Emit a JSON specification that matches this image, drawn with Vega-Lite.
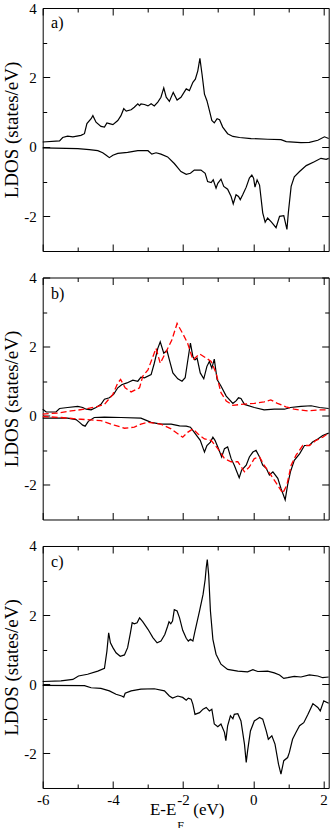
{
  "$schema": "https://vega.github.io/schema/vega-lite/v6.json",
  "padding": {"left": 1.7, "top": 0, "right": 4, "bottom": 0},
  "spacing": 17.5,
  "config": {
    "view": {"stroke": "#000", "strokeWidth": 1},
    "axis": {"domain": false, "grid": false, "tickColor": "#000", "tickWidth": 1, "labelFont": "Liberation Serif", "titleFont": "Liberation Serif", "labelColor": "#000", "titleColor": "#000", "labelFontSize": 15, "titleFontSize": 19, "titleFontWeight": "normal", "labelFlush": false}
  },
  "datasets": {
    "a": [
      {"e":-6,"d":0.14,"s":"u"},{"e":-5.52,"d":0.17,"s":"u"},{"e":-5.43,"d":0.27,"s":"u"},{"e":-5.29,"d":0.31,"s":"u"},{"e":-5.14,"d":0.29,"s":"u"},{"e":-4.91,"d":0.33,"s":"u"},{"e":-4.81,"d":0.38,"s":"u"},{"e":-4.74,"d":0.67,"s":"u"},{"e":-4.62,"d":0.81,"s":"u"},{"e":-4.57,"d":0.9,"s":"u"},{"e":-4.48,"d":0.71,"s":"u"},{"e":-4.34,"d":0.59,"s":"u"},{"e":-4.24,"d":0.57,"s":"u"},{"e":-4.17,"d":0.69,"s":"u"},{"e":-4.1,"d":0.67,"s":"u"},{"e":-4.0,"d":0.64,"s":"u"},{"e":-3.86,"d":0.76,"s":"u"},{"e":-3.77,"d":0.9,"s":"u"},{"e":-3.69,"d":1.1,"s":"u"},{"e":-3.62,"d":1.03,"s":"u"},{"e":-3.48,"d":1.07,"s":"u"},{"e":-3.39,"d":1.14,"s":"u"},{"e":-3.29,"d":1.24,"s":"u"},{"e":-3.24,"d":1.19,"s":"u"},{"e":-3.2,"d":1.24,"s":"u"},{"e":-3.1,"d":1.22,"s":"u"},{"e":-3.0,"d":1.18,"s":"u"},{"e":-2.91,"d":1.24,"s":"u"},{"e":-2.82,"d":1.18,"s":"u"},{"e":-2.72,"d":1.29,"s":"u"},{"e":-2.63,"d":1.43,"s":"u"},{"e":-2.55,"d":1.7,"s":"u"},{"e":-2.48,"d":1.43,"s":"u"},{"e":-2.39,"d":1.31,"s":"u"},{"e":-2.28,"d":1.57,"s":"u"},{"e":-2.17,"d":1.35,"s":"u"},{"e":-2.06,"d":1.43,"s":"u"},{"e":-1.91,"d":1.67,"s":"u"},{"e":-1.82,"d":1.62,"s":"u"},{"e":-1.72,"d":1.86,"s":"u"},{"e":-1.65,"d":1.95,"s":"u"},{"e":-1.58,"d":2.19,"s":"u"},{"e":-1.52,"d":2.55,"s":"u"},{"e":-1.46,"d":2.1,"s":"u"},{"e":-1.39,"d":1.52,"s":"u"},{"e":-1.32,"d":1.33,"s":"u"},{"e":-1.25,"d":1.05,"s":"u"},{"e":-1.18,"d":0.76,"s":"u"},{"e":-1.11,"d":0.69,"s":"u"},{"e":-1.03,"d":0.81,"s":"u"},{"e":-0.96,"d":0.78,"s":"u"},{"e":-0.87,"d":0.57,"s":"u"},{"e":-0.73,"d":0.38,"s":"u"},{"e":-0.58,"d":0.3,"s":"u"},{"e":-0.39,"d":0.27,"s":"u"},{"e":-0.06,"d":0.24,"s":"u"},{"e":0.41,"d":0.22,"s":"u"},{"e":0.79,"d":0.21,"s":"u"},{"e":0.94,"d":0.15,"s":"u"},{"e":1.36,"d":0.12,"s":"u"},{"e":1.6,"d":0.13,"s":"u"},{"e":1.84,"d":0.19,"s":"u"},{"e":2.03,"d":0.29,"s":"u"},{"e":2.15,"d":0.24,"s":"u"},
      {"e":-6,"d":-0.03,"s":"d"},{"e":-5.0,"d":-0.05,"s":"d"},{"e":-4.67,"d":-0.08,"s":"d"},{"e":-4.43,"d":-0.11,"s":"d"},{"e":-4.29,"d":-0.17,"s":"d"},{"e":-4.19,"d":-0.24,"s":"d"},{"e":-4.1,"d":-0.31,"s":"d"},{"e":-4.0,"d":-0.24,"s":"d"},{"e":-3.86,"d":-0.19,"s":"d"},{"e":-3.58,"d":-0.16,"s":"d"},{"e":-3.29,"d":-0.11,"s":"d"},{"e":-3.0,"d":-0.11,"s":"d"},{"e":-2.89,"d":-0.21,"s":"d"},{"e":-2.77,"d":-0.17,"s":"d"},{"e":-2.63,"d":-0.21,"s":"d"},{"e":-2.44,"d":-0.29,"s":"d"},{"e":-2.25,"d":-0.48,"s":"d"},{"e":-2.06,"d":-0.71,"s":"d"},{"e":-1.91,"d":-0.79,"s":"d"},{"e":-1.79,"d":-0.76,"s":"d"},{"e":-1.68,"d":-0.67,"s":"d"},{"e":-1.49,"d":-0.67,"s":"d"},{"e":-1.37,"d":-0.76,"s":"d"},{"e":-1.3,"d":-1.0,"s":"d"},{"e":-1.2,"d":-1.03,"s":"d"},{"e":-1.14,"d":-0.95,"s":"d"},{"e":-1.06,"d":-1.19,"s":"d"},{"e":-1.01,"d":-1.05,"s":"d"},{"e":-0.92,"d":-0.93,"s":"d"},{"e":-0.84,"d":-1.14,"s":"d"},{"e":-0.73,"d":-1.22,"s":"d"},{"e":-0.63,"d":-1.43,"s":"d"},{"e":-0.57,"d":-1.64,"s":"d"},{"e":-0.49,"d":-1.38,"s":"d"},{"e":-0.42,"d":-1.43,"s":"d"},{"e":-0.37,"d":-1.52,"s":"d"},{"e":-0.3,"d":-1.38,"s":"d"},{"e":-0.2,"d":-1.16,"s":"d"},{"e":-0.11,"d":-0.9,"s":"d"},{"e":-0.04,"d":-0.81,"s":"d"},{"e":0.01,"d":-0.9,"s":"d"},{"e":0.05,"d":-1.16,"s":"d"},{"e":0.11,"d":-0.95,"s":"d"},{"e":0.18,"d":-1.1,"s":"d"},{"e":0.27,"d":-1.9,"s":"d"},{"e":0.34,"d":-2.17,"s":"d"},{"e":0.41,"d":-2.05,"s":"d"},{"e":0.52,"d":-2.17,"s":"d"},{"e":0.65,"d":-2.33,"s":"d"},{"e":0.75,"d":-2.0,"s":"d"},{"e":0.87,"d":-1.98,"s":"d"},{"e":0.96,"d":-2.38,"s":"d"},{"e":1.0,"d":-1.9,"s":"d"},{"e":1.08,"d":-1.14,"s":"d"},{"e":1.17,"d":-0.86,"s":"d"},{"e":1.32,"d":-0.71,"s":"d"},{"e":1.51,"d":-0.54,"s":"d"},{"e":1.74,"d":-0.43,"s":"d"},{"e":1.93,"d":-0.33,"s":"d"},{"e":2.08,"d":-0.36,"s":"d"},{"e":2.15,"d":-0.33,"s":"d"}
    ],
    "b": [
      {"e":-6,"d":0.19,"s":"u","k":"b"},{"e":-5.9,"d":0.11,"s":"u","k":"b"},{"e":-5.62,"d":0.11,"s":"u","k":"b"},{"e":-5.52,"d":0.21,"s":"u","k":"b"},{"e":-5.29,"d":0.24,"s":"u","k":"b"},{"e":-5.0,"d":0.27,"s":"u","k":"b"},{"e":-4.86,"d":0.24,"s":"u","k":"b"},{"e":-4.76,"d":0.19,"s":"u","k":"b"},{"e":-4.62,"d":0.17,"s":"u","k":"b"},{"e":-4.48,"d":0.24,"s":"u","k":"b"},{"e":-4.34,"d":0.33,"s":"u","k":"b"},{"e":-4.24,"d":0.48,"s":"u","k":"b"},{"e":-4.1,"d":0.52,"s":"u","k":"b"},{"e":-3.98,"d":0.62,"s":"u","k":"b"},{"e":-3.86,"d":0.81,"s":"u","k":"b"},{"e":-3.75,"d":0.9,"s":"u","k":"b"},{"e":-3.6,"d":0.95,"s":"u","k":"b"},{"e":-3.43,"d":1.03,"s":"u","k":"b"},{"e":-3.29,"d":1.0,"s":"u","k":"b"},{"e":-3.2,"d":1.12,"s":"u","k":"b"},{"e":-3.1,"d":1.1,"s":"u","k":"b"},{"e":-2.91,"d":1.19,"s":"u","k":"b"},{"e":-2.82,"d":1.52,"s":"u","k":"b"},{"e":-2.72,"d":1.95,"s":"u","k":"b"},{"e":-2.65,"d":2.14,"s":"u","k":"b"},{"e":-2.55,"d":1.81,"s":"u","k":"b"},{"e":-2.46,"d":1.89,"s":"u","k":"b"},{"e":-2.39,"d":1.62,"s":"u","k":"b"},{"e":-2.29,"d":1.24,"s":"u","k":"b"},{"e":-2.15,"d":1.07,"s":"u","k":"b"},{"e":-2.03,"d":1.0,"s":"u","k":"b"},{"e":-1.94,"d":1.1,"s":"u","k":"b"},{"e":-1.87,"d":1.57,"s":"u","k":"b"},{"e":-1.79,"d":2.1,"s":"u","k":"b"},{"e":-1.72,"d":1.71,"s":"u","k":"b"},{"e":-1.66,"d":1.62,"s":"u","k":"b"},{"e":-1.6,"d":1.67,"s":"u","k":"b"},{"e":-1.51,"d":1.24,"s":"u","k":"b"},{"e":-1.41,"d":1.07,"s":"u","k":"b"},{"e":-1.32,"d":1.43,"s":"u","k":"b"},{"e":-1.25,"d":1.57,"s":"u","k":"b"},{"e":-1.18,"d":1.38,"s":"u","k":"b"},{"e":-1.11,"d":1.64,"s":"u","k":"b"},{"e":-1.03,"d":1.05,"s":"u","k":"b"},{"e":-0.92,"d":0.86,"s":"u","k":"b"},{"e":-0.77,"d":0.57,"s":"u","k":"b"},{"e":-0.58,"d":0.36,"s":"u","k":"b"},{"e":-0.49,"d":0.43,"s":"u","k":"b"},{"e":-0.42,"d":0.52,"s":"u","k":"b"},{"e":-0.35,"d":0.5,"s":"u","k":"b"},{"e":-0.25,"d":0.33,"s":"u","k":"b"},{"e":0.03,"d":0.24,"s":"u","k":"b"},{"e":0.31,"d":0.17,"s":"u","k":"b"},{"e":0.6,"d":0.19,"s":"u","k":"b"},{"e":0.89,"d":0.19,"s":"u","k":"b"},{"e":1.06,"d":0.24,"s":"u","k":"b"},{"e":1.36,"d":0.27,"s":"u","k":"b"},{"e":1.65,"d":0.29,"s":"u","k":"b"},{"e":1.89,"d":0.24,"s":"u","k":"b"},{"e":2.15,"d":0.21,"s":"u","k":"b"},
      {"e":-6,"d":-0.07,"s":"d","k":"b"},{"e":-5.29,"d":-0.07,"s":"d","k":"b"},{"e":-5.05,"d":-0.11,"s":"d","k":"b"},{"e":-4.95,"d":-0.19,"s":"d","k":"b"},{"e":-4.86,"d":-0.27,"s":"d","k":"b"},{"e":-4.79,"d":-0.3,"s":"d","k":"b"},{"e":-4.7,"d":-0.16,"s":"d","k":"b"},{"e":-4.53,"d":-0.05,"s":"d","k":"b"},{"e":-4.24,"d":-0.04,"s":"d","k":"b"},{"e":-3.77,"d":-0.05,"s":"d","k":"b"},{"e":-3.2,"d":-0.07,"s":"d","k":"b"},{"e":-2.91,"d":-0.19,"s":"d","k":"b"},{"e":-2.63,"d":-0.24,"s":"d","k":"b"},{"e":-2.34,"d":-0.24,"s":"d","k":"b"},{"e":-2.1,"d":-0.29,"s":"d","k":"b"},{"e":-1.91,"d":-0.3,"s":"d","k":"b"},{"e":-1.79,"d":-0.33,"s":"d","k":"b"},{"e":-1.68,"d":-0.48,"s":"d","k":"b"},{"e":-1.51,"d":-0.71,"s":"d","k":"b"},{"e":-1.39,"d":-1.05,"s":"d","k":"b"},{"e":-1.32,"d":-0.86,"s":"d","k":"b"},{"e":-1.22,"d":-0.76,"s":"d","k":"b"},{"e":-1.15,"d":-0.62,"s":"d","k":"b"},{"e":-1.09,"d":-0.71,"s":"d","k":"b"},{"e":-1.01,"d":-0.9,"s":"d","k":"b"},{"e":-0.9,"d":-1.19,"s":"d","k":"b"},{"e":-0.82,"d":-0.95,"s":"d","k":"b"},{"e":-0.73,"d":-0.9,"s":"d","k":"b"},{"e":-0.63,"d":-1.24,"s":"d","k":"b"},{"e":-0.54,"d":-1.43,"s":"d","k":"b"},{"e":-0.4,"d":-1.79,"s":"d","k":"b"},{"e":-0.33,"d":-1.57,"s":"d","k":"b"},{"e":-0.2,"d":-1.43,"s":"d","k":"b"},{"e":-0.11,"d":-1.19,"s":"d","k":"b"},{"e":-0.01,"d":-1.05,"s":"d","k":"b"},{"e":0.08,"d":-1.0,"s":"d","k":"b"},{"e":0.18,"d":-1.19,"s":"d","k":"b"},{"e":0.27,"d":-1.43,"s":"d","k":"b"},{"e":0.37,"d":-1.52,"s":"d","k":"b"},{"e":0.46,"d":-1.71,"s":"d","k":"b"},{"e":0.56,"d":-1.62,"s":"d","k":"b"},{"e":0.7,"d":-1.81,"s":"d","k":"b"},{"e":0.79,"d":-2.1,"s":"d","k":"b"},{"e":0.91,"d":-2.43,"s":"d","k":"b"},{"e":0.98,"d":-2.0,"s":"d","k":"b"},{"e":1.06,"d":-1.62,"s":"d","k":"b"},{"e":1.17,"d":-1.29,"s":"d","k":"b"},{"e":1.32,"d":-1.1,"s":"d","k":"b"},{"e":1.46,"d":-0.86,"s":"d","k":"b"},{"e":1.6,"d":-0.86,"s":"d","k":"b"},{"e":1.69,"d":-0.76,"s":"d","k":"b"},{"e":1.84,"d":-0.67,"s":"d","k":"b"},{"e":1.98,"d":-0.57,"s":"d","k":"b"},{"e":2.15,"d":-0.5,"s":"d","k":"b"},
      {"e":-6,"d":0.05,"s":"ru","k":"r"},{"e":-5.57,"d":0.08,"s":"ru","k":"r"},{"e":-5.19,"d":0.14,"s":"ru","k":"r"},{"e":-4.81,"d":0.19,"s":"ru","k":"r"},{"e":-4.43,"d":0.27,"s":"ru","k":"r"},{"e":-4.24,"d":0.33,"s":"ru","k":"r"},{"e":-4.0,"d":0.62,"s":"ru","k":"r"},{"e":-3.86,"d":0.95,"s":"ru","k":"r"},{"e":-3.78,"d":1.05,"s":"ru","k":"r"},{"e":-3.65,"d":0.81,"s":"ru","k":"r"},{"e":-3.48,"d":0.69,"s":"ru","k":"r"},{"e":-3.24,"d":0.81,"s":"ru","k":"r"},{"e":-3.15,"d":1.14,"s":"ru","k":"r"},{"e":-3.0,"d":1.33,"s":"ru","k":"r"},{"e":-2.86,"d":1.71,"s":"ru","k":"r"},{"e":-2.77,"d":1.95,"s":"ru","k":"r"},{"e":-2.65,"d":1.52,"s":"ru","k":"r"},{"e":-2.48,"d":1.86,"s":"ru","k":"r"},{"e":-2.32,"d":2.19,"s":"ru","k":"r"},{"e":-2.17,"d":2.67,"s":"ru","k":"r"},{"e":-2.01,"d":2.38,"s":"ru","k":"r"},{"e":-1.87,"d":2.1,"s":"ru","k":"r"},{"e":-1.72,"d":1.62,"s":"ru","k":"r"},{"e":-1.53,"d":1.79,"s":"ru","k":"r"},{"e":-1.34,"d":1.67,"s":"ru","k":"r"},{"e":-1.2,"d":1.57,"s":"ru","k":"r"},{"e":-1.06,"d":1.24,"s":"ru","k":"r"},{"e":-0.92,"d":0.67,"s":"ru","k":"r"},{"e":-0.77,"d":0.43,"s":"ru","k":"r"},{"e":-0.58,"d":0.3,"s":"ru","k":"r"},{"e":-0.35,"d":0.33,"s":"ru","k":"r"},{"e":0.03,"d":0.36,"s":"ru","k":"r"},{"e":0.31,"d":0.4,"s":"ru","k":"r"},{"e":0.5,"d":0.46,"s":"ru","k":"r"},{"e":0.69,"d":0.36,"s":"ru","k":"r"},{"e":0.93,"d":0.26,"s":"ru","k":"r"},{"e":1.17,"d":0.19,"s":"ru","k":"r"},{"e":1.55,"d":0.14,"s":"ru","k":"r"},{"e":1.84,"d":0.17,"s":"ru","k":"r"},{"e":2.15,"d":0.17,"s":"ru","k":"r"},
      {"e":-6,"d":-0.02,"s":"rd","k":"r"},{"e":-5.48,"d":-0.05,"s":"rd","k":"r"},{"e":-4.91,"d":-0.1,"s":"rd","k":"r"},{"e":-4.34,"d":-0.14,"s":"rd","k":"r"},{"e":-3.96,"d":-0.27,"s":"rd","k":"r"},{"e":-3.67,"d":-0.36,"s":"rd","k":"r"},{"e":-3.39,"d":-0.33,"s":"rd","k":"r"},{"e":-3.2,"d":-0.24,"s":"rd","k":"r"},{"e":-3.0,"d":-0.19,"s":"rd","k":"r"},{"e":-2.63,"d":-0.24,"s":"rd","k":"r"},{"e":-2.34,"d":-0.38,"s":"rd","k":"r"},{"e":-2.15,"d":-0.52,"s":"rd","k":"r"},{"e":-2.01,"d":-0.62,"s":"rd","k":"r"},{"e":-1.87,"d":-0.48,"s":"rd","k":"r"},{"e":-1.72,"d":-0.38,"s":"rd","k":"r"},{"e":-1.58,"d":-0.52,"s":"rd","k":"r"},{"e":-1.39,"d":-0.67,"s":"rd","k":"r"},{"e":-1.2,"d":-0.71,"s":"rd","k":"r"},{"e":-1.01,"d":-0.95,"s":"rd","k":"r"},{"e":-0.82,"d":-1.24,"s":"rd","k":"r"},{"e":-0.63,"d":-1.33,"s":"rd","k":"r"},{"e":-0.44,"d":-1.33,"s":"rd","k":"r"},{"e":-0.25,"d":-1.62,"s":"rd","k":"r"},{"e":-0.11,"d":-1.48,"s":"rd","k":"r"},{"e":0.03,"d":-1.24,"s":"rd","k":"r"},{"e":0.18,"d":-1.19,"s":"rd","k":"r"},{"e":0.31,"d":-1.43,"s":"rd","k":"r"},{"e":0.5,"d":-1.71,"s":"rd","k":"r"},{"e":0.69,"d":-2.0,"s":"rd","k":"r"},{"e":0.84,"d":-2.24,"s":"rd","k":"r"},{"e":0.96,"d":-2.0,"s":"rd","k":"r"},{"e":1.08,"d":-1.43,"s":"rd","k":"r"},{"e":1.22,"d":-1.14,"s":"rd","k":"r"},{"e":1.41,"d":-0.86,"s":"rd","k":"r"},{"e":1.6,"d":-0.86,"s":"rd","k":"r"},{"e":1.79,"d":-0.71,"s":"rd","k":"r"},{"e":1.98,"d":-0.62,"s":"rd","k":"r"},{"e":2.15,"d":-0.5,"s":"rd","k":"r"}
    ],
    "c": [
      {"e":-6,"d":0.08,"s":"u"},{"e":-5.48,"d":0.1,"s":"u"},{"e":-5.14,"d":0.14,"s":"u"},{"e":-4.98,"d":0.24,"s":"u"},{"e":-4.72,"d":0.29,"s":"u"},{"e":-4.43,"d":0.38,"s":"u"},{"e":-4.24,"d":0.46,"s":"u"},{"e":-4.17,"d":0.96,"s":"u"},{"e":-4.12,"d":1.49,"s":"u"},{"e":-4.07,"d":1.2,"s":"u"},{"e":-4.0,"d":1.06,"s":"u"},{"e":-3.91,"d":0.91,"s":"u"},{"e":-3.79,"d":0.81,"s":"u"},{"e":-3.67,"d":0.85,"s":"u"},{"e":-3.58,"d":1.06,"s":"u"},{"e":-3.5,"d":1.49,"s":"u"},{"e":-3.45,"d":1.78,"s":"u"},{"e":-3.39,"d":1.75,"s":"u"},{"e":-3.31,"d":1.78,"s":"u"},{"e":-3.24,"d":1.92,"s":"u"},{"e":-3.15,"d":1.81,"s":"u"},{"e":-3.0,"d":1.59,"s":"u"},{"e":-2.86,"d":1.35,"s":"u"},{"e":-2.74,"d":1.2,"s":"u"},{"e":-2.63,"d":1.25,"s":"u"},{"e":-2.52,"d":1.44,"s":"u"},{"e":-2.44,"d":1.68,"s":"u"},{"e":-2.4,"d":1.81,"s":"u"},{"e":-2.35,"d":1.75,"s":"u"},{"e":-2.3,"d":1.83,"s":"u"},{"e":-2.25,"d":2.16,"s":"u"},{"e":-2.17,"d":2.12,"s":"u"},{"e":-2.1,"d":1.92,"s":"u"},{"e":-2.01,"d":1.56,"s":"u"},{"e":-1.91,"d":1.33,"s":"u"},{"e":-1.85,"d":1.25,"s":"u"},{"e":-1.79,"d":1.3,"s":"u"},{"e":-1.72,"d":1.25,"s":"u"},{"e":-1.66,"d":1.54,"s":"u"},{"e":-1.53,"d":2.12,"s":"u"},{"e":-1.43,"d":2.6,"s":"u"},{"e":-1.37,"d":3.03,"s":"u"},{"e":-1.34,"d":3.37,"s":"u"},{"e":-1.31,"d":3.61,"s":"u"},{"e":-1.27,"d":3.17,"s":"u"},{"e":-1.22,"d":2.12,"s":"u"},{"e":-1.15,"d":1.3,"s":"u"},{"e":-1.06,"d":0.87,"s":"u"},{"e":-0.92,"d":0.58,"s":"u"},{"e":-0.73,"d":0.43,"s":"u"},{"e":-0.44,"d":0.38,"s":"u"},{"e":-0.16,"d":0.36,"s":"u"},{"e":-0.01,"d":0.42,"s":"u"},{"e":0.13,"d":0.37,"s":"u"},{"e":0.41,"d":0.38,"s":"u"},{"e":0.6,"d":0.33,"s":"u"},{"e":0.75,"d":0.27,"s":"u"},{"e":0.87,"d":0.17,"s":"u"},{"e":0.98,"d":0.19,"s":"u"},{"e":1.17,"d":0.23,"s":"u"},{"e":1.36,"d":0.21,"s":"u"},{"e":1.6,"d":0.27,"s":"u"},{"e":1.84,"d":0.24,"s":"u"},{"e":1.98,"d":0.19,"s":"u"},{"e":2.15,"d":0.21,"s":"u"},
      {"e":-6,"d":-0.03,"s":"d"},{"e":-4.81,"d":-0.04,"s":"d"},{"e":-4.62,"d":-0.1,"s":"d"},{"e":-4.34,"d":-0.12,"s":"d"},{"e":-4.1,"d":-0.19,"s":"d"},{"e":-3.91,"d":-0.29,"s":"d"},{"e":-3.75,"d":-0.34,"s":"d"},{"e":-3.69,"d":-0.37,"s":"d"},{"e":-3.65,"d":-0.26,"s":"d"},{"e":-3.48,"d":-0.19,"s":"d"},{"e":-3.2,"d":-0.14,"s":"d"},{"e":-2.82,"d":-0.13,"s":"d"},{"e":-2.53,"d":-0.19,"s":"d"},{"e":-2.39,"d":-0.34,"s":"d"},{"e":-2.3,"d":-0.4,"s":"d"},{"e":-2.15,"d":-0.34,"s":"d"},{"e":-2.01,"d":-0.38,"s":"d"},{"e":-1.91,"d":-0.46,"s":"d"},{"e":-1.85,"d":-0.4,"s":"d"},{"e":-1.77,"d":-0.43,"s":"d"},{"e":-1.72,"d":-0.58,"s":"d"},{"e":-1.66,"d":-0.87,"s":"d"},{"e":-1.53,"d":-0.82,"s":"d"},{"e":-1.43,"d":-0.72,"s":"d"},{"e":-1.34,"d":-0.67,"s":"d"},{"e":-1.25,"d":-0.77,"s":"d"},{"e":-1.18,"d":-0.72,"s":"d"},{"e":-1.11,"d":-1.15,"s":"d"},{"e":-1.01,"d":-1.23,"s":"d"},{"e":-0.92,"d":-1.15,"s":"d"},{"e":-0.82,"d":-1.39,"s":"d"},{"e":-0.78,"d":-1.63,"s":"d"},{"e":-0.73,"d":-1.2,"s":"d"},{"e":-0.65,"d":-0.91,"s":"d"},{"e":-0.58,"d":-1.0,"s":"d"},{"e":-0.54,"d":-0.87,"s":"d"},{"e":-0.44,"d":-0.85,"s":"d"},{"e":-0.35,"d":-1.06,"s":"d"},{"e":-0.25,"d":-1.73,"s":"d"},{"e":-0.2,"d":-2.26,"s":"d"},{"e":-0.16,"d":-1.92,"s":"d"},{"e":-0.08,"d":-1.35,"s":"d"},{"e":0.03,"d":-1.06,"s":"d"},{"e":0.18,"d":-0.96,"s":"d"},{"e":0.27,"d":-1.01,"s":"d"},{"e":0.37,"d":-1.35,"s":"d"},{"e":0.43,"d":-1.59,"s":"d"},{"e":0.53,"d":-1.49,"s":"d"},{"e":0.62,"d":-1.73,"s":"d"},{"e":0.72,"d":-2.31,"s":"d"},{"e":0.79,"d":-2.6,"s":"d"},{"e":0.87,"d":-2.21,"s":"d"},{"e":0.98,"d":-2.12,"s":"d"},{"e":1.03,"d":-1.97,"s":"d"},{"e":1.12,"d":-1.59,"s":"d"},{"e":1.22,"d":-1.39,"s":"d"},{"e":1.32,"d":-1.2,"s":"d"},{"e":1.44,"d":-1.11,"s":"d"},{"e":1.56,"d":-0.87,"s":"d"},{"e":1.7,"d":-0.56,"s":"d"},{"e":1.84,"d":-0.67,"s":"d"},{"e":1.91,"d":-0.77,"s":"d"},{"e":2.01,"d":-0.48,"s":"d"},{"e":2.15,"d":-0.55,"s":"d"}
    ]
  },
  "vconcat": [
    {
      "width": 286, "height": 243,
      "data": {"name": "a"},
      "resolve": {"axis": {"x": "independent", "y": "independent"}},
      "layer": [
        {"mark": {"type": "line", "color": "#000", "strokeWidth": 1.2},
         "encoding": {
           "x": {"field": "e", "type": "quantitative", "scale": {"domain": [-6, 2.15], "nice": false, "zero": false}, "axis": {"orient": "bottom", "values": [-6,-4,-2,0,2], "tickSize": -7, "labels": false, "title": null}},
           "y": {"field": "d", "type": "quantitative", "scale": {"domain": [-3, 4], "nice": false, "zero": false}, "axis": {"orient": "left", "values": [-2,0,2,4], "tickSize": -7, "labelPadding": 13.5, "labelExpr": "datum.value + ''", "title": "LDOS (states/eV)", "titlePadding": 1.8}},
           "detail": {"field": "s"}}},
        {"mark": {"type": "point", "opacity": 0},
         "encoding": {
           "x": {"field": "e", "type": "quantitative", "scale": {"domain": [-6, 2.15], "nice": false, "zero": false}, "axis": {"orient": "top", "values": [-6,-4,-2,0,2], "tickSize": -7, "labels": false, "title": null}},
           "y": {"field": "d", "type": "quantitative", "scale": {"domain": [-3, 4], "nice": false, "zero": false}, "axis": {"orient": "right", "values": [-2,0,2,4], "tickSize": -7, "labels": false, "title": null}}}},
        {"mark": {"type": "point", "opacity": 0},
         "encoding": {
           "x": {"field": "e", "type": "quantitative", "scale": {"domain": [-6, 2.15], "nice": false, "zero": false}, "axis": {"orient": "bottom", "values": [-5,-3,-1,1], "tickSize": -4, "labels": false, "title": null}},
           "y": {"field": "d", "type": "quantitative", "scale": {"domain": [-3, 4], "nice": false, "zero": false}, "axis": {"orient": "left", "values": [-1,1,3], "tickSize": -4, "labels": false, "title": null}}}},
        {"mark": {"type": "point", "opacity": 0},
         "encoding": {
           "x": {"field": "e", "type": "quantitative", "scale": {"domain": [-6, 2.15], "nice": false, "zero": false}, "axis": {"orient": "top", "values": [-5,-3,-1,1], "tickSize": -4, "labels": false, "title": null}},
           "y": {"field": "d", "type": "quantitative", "scale": {"domain": [-3, 4], "nice": false, "zero": false}, "axis": {"orient": "right", "values": [-1,1,3], "tickSize": -4, "labels": false, "title": null}}}},
        {"data": {"values": [{"t": "a)"}]},
         "mark": {"type": "text", "font": "Liberation Serif", "fontSize": 16, "align": "left", "baseline": "middle", "color": "#000"},
         "encoding": {
           "x": {"datum": -5.76, "type": "quantitative", "axis": null},
           "y": {"datum": 3.57, "type": "quantitative", "axis": null},
           "text": {"field": "t"}}}
      ]
    },
    {
      "width": 286, "height": 242,
      "data": {"name": "b"},
      "resolve": {"axis": {"x": "independent", "y": "independent"}},
      "layer": [
        {"transform": [{"filter": "datum.k == 'b'"}],
         "mark": {"type": "line", "color": "#000", "strokeWidth": 1.2},
         "encoding": {
           "x": {"field": "e", "type": "quantitative", "scale": {"domain": [-6, 2.15], "nice": false, "zero": false}, "axis": {"orient": "bottom", "values": [-6,-4,-2,0,2], "tickSize": -7, "labels": false, "title": null}},
           "y": {"field": "d", "type": "quantitative", "scale": {"domain": [-3, 4], "nice": false, "zero": false}, "axis": {"orient": "left", "values": [-2,0,2,4], "tickSize": -7, "labelPadding": 13.5, "labelExpr": "datum.value + ''", "title": "LDOS (states/eV)", "titlePadding": 1.8}},
           "detail": {"field": "s"}}},
        {"transform": [{"filter": "datum.k == 'r'"}],
         "mark": {"type": "line", "color": "#ff0000", "strokeWidth": 1.3, "strokeDash": [6, 3]},
         "encoding": {
           "x": {"field": "e", "type": "quantitative", "scale": {"domain": [-6, 2.15], "nice": false, "zero": false}, "axis": null},
           "y": {"field": "d", "type": "quantitative", "scale": {"domain": [-3, 4], "nice": false, "zero": false}, "axis": null},
           "detail": {"field": "s"}}},
        {"mark": {"type": "point", "opacity": 0},
         "encoding": {
           "x": {"field": "e", "type": "quantitative", "scale": {"domain": [-6, 2.15], "nice": false, "zero": false}, "axis": {"orient": "top", "values": [-6,-4,-2,0,2], "tickSize": -7, "labels": false, "title": null}},
           "y": {"field": "d", "type": "quantitative", "scale": {"domain": [-3, 4], "nice": false, "zero": false}, "axis": {"orient": "right", "values": [-2,0,2,4], "tickSize": -7, "labels": false, "title": null}}}},
        {"mark": {"type": "point", "opacity": 0},
         "encoding": {
           "x": {"field": "e", "type": "quantitative", "scale": {"domain": [-6, 2.15], "nice": false, "zero": false}, "axis": {"orient": "bottom", "values": [-5,-3,-1,1], "tickSize": -4, "labels": false, "title": null}},
           "y": {"field": "d", "type": "quantitative", "scale": {"domain": [-3, 4], "nice": false, "zero": false}, "axis": {"orient": "left", "values": [-1,1,3], "tickSize": -4, "labels": false, "title": null}}}},
        {"mark": {"type": "point", "opacity": 0},
         "encoding": {
           "x": {"field": "e", "type": "quantitative", "scale": {"domain": [-6, 2.15], "nice": false, "zero": false}, "axis": {"orient": "top", "values": [-5,-3,-1,1], "tickSize": -4, "labels": false, "title": null}},
           "y": {"field": "d", "type": "quantitative", "scale": {"domain": [-3, 4], "nice": false, "zero": false}, "axis": {"orient": "right", "values": [-1,1,3], "tickSize": -4, "labels": false, "title": null}}}},
        {"data": {"values": [{"t": "b)"}]},
         "mark": {"type": "text", "font": "Liberation Serif", "fontSize": 16, "align": "left", "baseline": "middle", "color": "#000"},
         "encoding": {
           "x": {"datum": -5.76, "type": "quantitative", "axis": null},
           "y": {"datum": 3.52, "type": "quantitative", "axis": null},
           "text": {"field": "t"}}}
      ]
    },
    {
      "width": 286, "height": 242,
      "data": {"name": "c"},
      "resolve": {"axis": {"x": "independent", "y": "independent"}},
      "layer": [
        {"mark": {"type": "line", "color": "#000", "strokeWidth": 1.2},
         "encoding": {
           "x": {"field": "e", "type": "quantitative", "scale": {"domain": [-6, 2.15], "nice": false, "zero": false}, "axis": {"orient": "bottom", "values": [-6,-4,-2,0,2], "tickSize": -7, "labelPadding": 11.8, "labelExpr": "datum.value + ''", "title": "E-E\u00a0\u00a0\u00a0\u00a0(eV)", "titleFontSize": 17, "titleX": 144, "titleY": 27, "titleAlign": "center", "titleBaseline": "alphabetic", "titleAnchor": "middle"}},
           "y": {"field": "d", "type": "quantitative", "scale": {"domain": [-3, 4], "nice": false, "zero": false}, "axis": {"orient": "left", "values": [-2,0,2,4], "tickSize": -7, "labelPadding": 13.5, "labelExpr": "datum.value + ''", "title": "LDOS (states/eV)", "titlePadding": 1.8}},
           "detail": {"field": "s"}}},
        {"mark": {"type": "point", "opacity": 0},
         "encoding": {
           "x": {"field": "e", "type": "quantitative", "scale": {"domain": [-6, 2.15], "nice": false, "zero": false}, "axis": {"orient": "top", "values": [-6,-4,-2,0,2], "tickSize": -7, "labels": false, "title": null}},
           "y": {"field": "d", "type": "quantitative", "scale": {"domain": [-3, 4], "nice": false, "zero": false}, "axis": {"orient": "right", "values": [-2,0,2,4], "tickSize": -7, "labels": false, "title": null}}}},
        {"mark": {"type": "point", "opacity": 0},
         "encoding": {
           "x": {"field": "e", "type": "quantitative", "scale": {"domain": [-6, 2.15], "nice": false, "zero": false}, "axis": {"orient": "bottom", "values": [-5,-3,-1,1], "tickSize": -4, "labels": false, "title": "F", "titleFontSize": 12, "titleX": 134, "titleY": 42, "titleAlign": "left", "titleBaseline": "alphabetic"}},
           "y": {"field": "d", "type": "quantitative", "scale": {"domain": [-3, 4], "nice": false, "zero": false}, "axis": {"orient": "left", "values": [-1,1,3], "tickSize": -4, "labels": false, "title": null}}}},
        {"mark": {"type": "point", "opacity": 0},
         "encoding": {
           "x": {"field": "e", "type": "quantitative", "scale": {"domain": [-6, 2.15], "nice": false, "zero": false}, "axis": {"orient": "top", "values": [-5,-3,-1,1], "tickSize": -4, "labels": false, "title": null}},
           "y": {"field": "d", "type": "quantitative", "scale": {"domain": [-3, 4], "nice": false, "zero": false}, "axis": {"orient": "right", "values": [-1,1,3], "tickSize": -4, "labels": false, "title": null}}}},
        {"data": {"values": [{"t": "c)"}]},
         "mark": {"type": "text", "font": "Liberation Serif", "fontSize": 16, "align": "left", "baseline": "middle", "color": "#000"},
         "encoding": {
           "x": {"datum": -5.76, "type": "quantitative", "axis": null},
           "y": {"datum": 3.53, "type": "quantitative", "axis": null},
           "text": {"field": "t"}}}
      ]
    }
  ]
}
